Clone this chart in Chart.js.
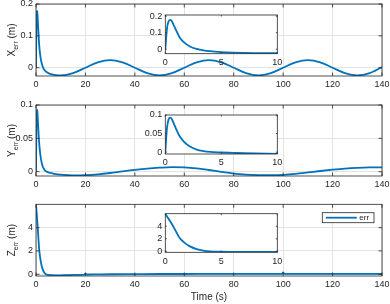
<!DOCTYPE html>
<html>
<head>
<meta charset="utf-8">
<script src="https://cdn.jsdelivr.net/npm/chart.js@4.4.1/dist/chart.umd.min.js"></script>
<style>
  html, body { margin: 0; padding: 0; background: #fff; }
  #wrap { position: relative; width: 390px; height: 304px; }
  #wrap canvas { position: absolute; left: 0; top: 0; }
</style>
</head>
<body>
<div id="wrap">
  <canvas id="mainX" width="390" height="304"></canvas>
  <canvas id="mainY" width="390" height="304"></canvas>
  <canvas id="mainZ" width="390" height="304"></canvas>
  <canvas id="insetX" width="390" height="304"></canvas>
  <canvas id="insetY" width="390" height="304"></canvas>
  <canvas id="insetZ" width="390" height="304"></canvas>
</div>
<script>
// time samples (s) and errors (m)
const tXY = [0, 0.15, 0.3, 0.45, 0.6, 0.8, 1, 1.3, 1.7, 2.2, 2.8, 3.4, 4, 5, 6, 7, 8, 10,
  15, 20, 25, 30, 35, 40, 45, 50, 55, 60, 65, 70, 75, 80, 85, 90, 95, 100, 105, 110, 115, 120, 125, 130, 135, 140];
const xErr = [0, 0.125, 0.17, 0.178, 0.168, 0.138, 0.11, 0.07, 0.04, 0.017, 0.002, -0.007, -0.012, -0.017, -0.02, -0.022, -0.023, -0.024,
  -0.017, 0, 0.017, 0.024, 0.017, 0, -0.017, -0.024, -0.017, 0, 0.017, 0.024, 0.017, 0, -0.017, -0.024, -0.017, 0, 0.017, 0.024, 0.017, 0, -0.017, -0.024, -0.017, 0.002];
const yErr = [0, 0.065, 0.089, 0.093, 0.088, 0.074, 0.06, 0.042, 0.027, 0.015, 0.007, 0.003, 0.0005, -0.001, -0.002, -0.003, -0.0037, -0.0045,
  -0.0055, -0.0052, -0.004, -0.002, 0.0005, 0.0028, 0.0047, 0.006, 0.0068, 0.0065, 0.005, 0.0025, -0.0003, -0.0028, -0.0044, -0.0052, -0.0054, -0.0048, -0.0033, -0.0012, 0.001, 0.003, 0.0047, 0.0058, 0.0064, 0.0065];
const tZ = [0, 0.2, 0.45, 0.7, 1, 1.3, 1.7, 2.2, 2.8, 3.4, 4, 5, 6, 8, 10, 12, 15, 19.5, 20, 20.5,
  25, 30, 40, 50, 60, 70, 80, 90, 99.5, 100, 100.5, 110, 120, 130, 140];
const zErr = [5.95, 5.45, 4.75, 4.0, 3.0, 2.1, 1.4, 0.8, 0.37, 0.12, 0.0, -0.06, -0.08, -0.09, -0.09, -0.08, -0.06, -0.04, 0.06, -0.02,
  -0.01, 0, 0.01, 0.02, 0.02, 0.03, 0.03, 0.03, 0.03, 0.15, 0.04, 0.04, 0.04, 0.04, 0.04];

// tick labels
const timeTicks = [0, 20, 40, 60, 80, 100, 120, 140];
const zoomTimeTicks = [0, 5, 10];
const xErrTicks = [0, 0.1, 0.2];
const yErrTicks = [0, 0.05, 0.1];
const zErrTicks = [0, 2, 4];

const BLUE = '#0072BD';
const INK = '#262626';
const GRID = '#e3e3e3';
const FONT = '"Liberation Sans", Arial, sans-serif';
const W_Y = 30, H_X = 14;

// box, inward ticks, axis titles and legend in the MATLAB look
const matlabBox = {
  id: 'matlabBox',
  beforeDraw(chart, args, o) {
    if (!o.fill) return;
    const a = chart.chartArea, ctx = chart.ctx;
    ctx.save();
    ctx.fillStyle = '#fff';
    ctx.fillRect(a.left, a.top, a.width, a.height);
    ctx.restore();
  },
  afterDraw(chart, args, o) {
    const { ctx, chartArea: a, scales } = chart;
    ctx.save();
    ctx.strokeStyle = INK;
    ctx.lineWidth = 0.8;
    ctx.beginPath();
    scales.x.ticks.forEach(t => {
      const px = scales.x.getPixelForValue(t.value);
      ctx.moveTo(px, a.bottom); ctx.lineTo(px, a.bottom - o.tick);
      ctx.moveTo(px, a.top); ctx.lineTo(px, a.top + o.tick);
    });
    scales.y.ticks.forEach(t => {
      const py = scales.y.getPixelForValue(t.value);
      ctx.moveTo(a.left, py); ctx.lineTo(a.left + o.tick, py);
      ctx.moveTo(a.right, py); ctx.lineTo(a.right - o.tick, py);
    });
    ctx.stroke();
    ctx.strokeRect(a.left, a.top, a.width, a.height);

    ctx.fillStyle = INK;
    if (o.ylabel) {
      const F = 10, f = 7;
      ctx.font = F + 'px ' + FONT;
      const w1 = ctx.measureText(o.ylabel[0]).width;
      const w3 = ctx.measureText(o.ylabel[2]).width;
      ctx.font = f + 'px ' + FONT;
      const w2 = ctx.measureText(o.ylabel[1]).width;
      let x = -(w1 + w2 + w3) / 2;
      ctx.translate(a.left - 21, (a.top + a.bottom) / 2);
      ctx.rotate(-Math.PI / 2);
      ctx.textBaseline = 'alphabetic';
      ctx.font = F + 'px ' + FONT;
      ctx.fillText(o.ylabel[0], x, 0); x += w1;
      ctx.font = f + 'px ' + FONT;
      ctx.fillText(o.ylabel[1], x, 2.5); x += w2;
      ctx.font = F + 'px ' + FONT;
      ctx.fillText(o.ylabel[2], x, 0);
      ctx.setTransform(1, 0, 0, 1, 0, 0);
    }
    if (o.xlabel) {
      ctx.font = '10px ' + FONT;
      ctx.textAlign = 'center';
      ctx.textBaseline = 'top';
      ctx.fillText(o.xlabel, (a.left + a.right) / 2, a.bottom + 16);
    }
    if (o.legend) {
      const ds = chart.data.datasets[0];
      const lw = 51.7, lh = 10, lx = a.right - 8 - lw, ly = a.top + 8.4;
      ctx.fillStyle = '#fff';
      ctx.fillRect(lx, ly, lw, lh);
      ctx.strokeStyle = INK;
      ctx.lineWidth = 0.8;
      ctx.strokeRect(lx, ly, lw, lh);
      ctx.strokeStyle = ds.borderColor;
      ctx.lineWidth = 1.8;
      ctx.beginPath();
      ctx.moveTo(lx + 3.5, ly + lh / 2); ctx.lineTo(lx + 34.5, ly + lh / 2);
      ctx.stroke();
      ctx.fillStyle = INK;
      ctx.font = '8px ' + FONT;
      ctx.textAlign = 'left';
      ctx.textBaseline = 'middle';
      ctx.fillText(ds.label, lx + 37, ly + lh / 2 + 0.5);
    }
    ctx.restore();
  }
};

function makeAxes(id, box, t, v, xr, yr, xTicks, yTicks, deco) {
  const pts = t.map((x, i) => ({ x: x, y: v[i] }));
  const tickFont = { family: FONT, size: 9 };
  return new Chart(document.getElementById(id), {
    type: 'line',
    data: {
      datasets: [{
        label: 'err',
        data: pts,
        borderColor: BLUE,
        borderWidth: 1.8,
        pointRadius: 0,
        cubicInterpolationMode: 'monotone',
        fill: false,
        clip: 0
      }]
    },
    options: {
      responsive: false,
      animation: false,
      events: [],
      layout: { padding: { left: box.l - W_Y, top: box.t, right: 390 - box.r, bottom: 304 - box.b - H_X } },
      plugins: { legend: { display: false }, tooltip: { enabled: false }, matlabBox: deco },
      scales: {
        x: {
          type: 'linear', min: xr[0], max: xr[1],
          afterBuildTicks: s => { s.ticks = xTicks.map(value => ({ value })); },
          afterFit: s => { s.height = H_X; s.paddingLeft = s.paddingRight = s.paddingTop = s.paddingBottom = 0; },
          grid: { display: deco.grid, color: GRID, drawTicks: false },
          border: { display: false },
          ticks: { color: INK, font: tickFont, padding: 3.5, maxRotation: 0, autoSkip: false, callback: val => String(val) }
        },
        y: {
          type: 'linear', min: yr[0], max: yr[1],
          afterBuildTicks: s => { s.ticks = yTicks.map(value => ({ value })); },
          afterFit: s => { s.width = W_Y; s.paddingLeft = s.paddingRight = s.paddingTop = s.paddingBottom = 0; },
          grid: { display: deco.grid, color: GRID, drawTicks: false },
          border: { display: false },
          ticks: { color: INK, font: tickFont, padding: 3, autoSkip: false, callback: val => String(val) }
        }
      }
    },
    plugins: [matlabBox]
  });
}

makeAxes('mainX', { l: 36, t: 4, r: 382, b: 76 }, tXY, xErr, [0, 140], [-0.026, 0.2], timeTicks, xErrTicks,
  { grid: true, tick: 3.5, ylabel: ['X', 'err', ' (m)'] });
makeAxes('mainY', { l: 36, t: 105, r: 382, b: 176 }, tXY, yErr, [0, 140], [-0.0065, 0.1], timeTicks, yErrTicks,
  { grid: true, tick: 3.5, ylabel: ['Y', 'err', ' (m)'] });
makeAxes('mainZ', { l: 36, t: 204.3, r: 382, b: 276 }, tZ, zErr, [0, 140], [-0.15, 6], timeTicks, zErrTicks,
  { grid: true, tick: 3.5, ylabel: ['Z', 'err', ' (m)'], xlabel: 'Time (s)', legend: true });

makeAxes('insetX', { l: 165.3, t: 15, r: 277.3, b: 53.7 }, tXY, xErr, [0, 10], [-0.027, 0.207], zoomTimeTicks, xErrTicks,
  { grid: false, fill: true, tick: 1.5 });
makeAxes('insetY', { l: 165.3, t: 115, r: 277.3, b: 154 }, tXY, yErr, [0, 10], [-0.005, 0.1], zoomTimeTicks, yErrTicks,
  { grid: false, fill: true, tick: 1.5 });
makeAxes('insetZ', { l: 165.3, t: 213.7, r: 277.3, b: 252.3 }, tZ, zErr, [0, 10], [-0.15, 6], zoomTimeTicks, zErrTicks,
  { grid: false, fill: true, tick: 1.5 });
</script>
</body>
</html>
